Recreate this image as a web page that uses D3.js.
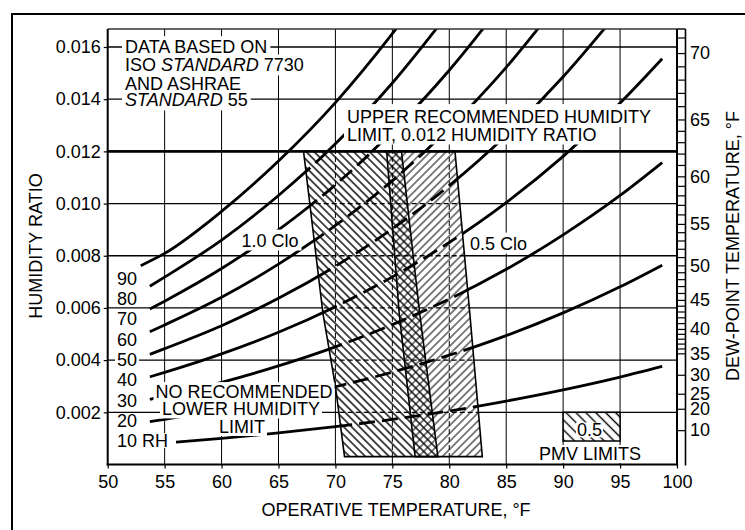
<!DOCTYPE html>
<html><head><meta charset="utf-8">
<script src="https://cdn.jsdelivr.net/npm/d3@7"></script>
<style>
body{margin:0;background:#fff;}
svg text{font-family:"Liberation Sans",Arial,sans-serif;font-size:18px;fill:#000;}
</style></head><body>
<svg id="c" width="745" height="530"></svg>
<script>
// ---------- data ----------
const tempTicks = [50,55,60,65,70,75,80,85,90,95,100];
const ratioTicks = [0.002,0.004,0.006,0.008,0.010,0.012,0.014,0.016];
const dewPointLabels = [10,20,25,30,35,40,45,50,55,60,65,70];
const dewPointMinor = [36,37,38,39,41,42,43,44,46,47,48,49,51,52,53,54,56,57,58,59,61,62,63,64,66,67,68,69,71];
const dewPointRef = [10,15,20,25,30,32,35,40,45,50,55,60,65,70,75];
const dewPointRatio = [0.001316,0.00169,0.002136,0.002712,0.003439,0.003773,0.004260,0.005195,0.006309,0.007632,0.009221,0.011044,0.013223,0.015768,0.018755];

// relative humidity curves: [operative temperature °F, humidity ratio]
const rh90 = [[52.9,0.00762],[55,0.00809],[60,0.00970],[65,0.01163],[70,0.01387],[75,0.01651],[76,0.01708]];
const rh80 = [[53.7,0.00683],[55,0.00718],[60,0.00860],[65,0.01031],[70,0.01229],[75,0.01462],[80,0.01734]];
const rh70 = [[53.7,0.00596],[55,0.00626],[60,0.00751],[65,0.00899],[70,0.01072],[75,0.01275],[80,0.01511],[85,0.01784]];
const rh60 = [[53.7,0.00509],[55,0.00535],[60,0.00641],[65,0.00768],[70,0.00916],[75,0.01088],[80,0.01289],[85,0.01522],[90,0.01793]];
const rh50 = [[53.7,0.00422],[55,0.00444],[60,0.00532],[65,0.00637],[70,0.00760],[75,0.00903],[80,0.01069],[85,0.01262],[90,0.01486],[95,0.01743]];
const rh40 = [[53.7,0.00336],[55,0.00353],[60,0.00424],[65,0.00507],[70,0.00605],[75,0.00719],[80,0.00851],[85,0.01004],[90,0.01181],[95,0.01385],[98.7,0.01555]];
const rh30 = [[53.7,0.00250],[55,0.00263],[60,0.00315],[65,0.00378],[70,0.00451],[75,0.00536],[80,0.00634],[85,0.00748],[90,0.00880],[95,0.01031],[98.7,0.01157]];
const rh20 = [[53.7,0.00164],[55,0.00173],[60,0.00208],[65,0.00249],[70,0.00298],[75,0.00354],[80,0.00419],[85,0.00494],[90,0.00581],[95,0.00681],[98.7,0.00764]];
const rh10 = [[56,0.00086],[60,0.00100],[65,0.00121],[70,0.00145],[75,0.00173],[80,0.00205],[85,0.00243],[90,0.00286],[95,0.00335],[98.7,0.00376]];
const rhCurves = [rh90,rh80,rh70,rh60,rh50,rh40,rh30,rh20,rh10];
const rhLabels = ["90","80","70","60","50","40","30","20","10 RH"];

// comfort zones
const zoneClo10 = [[67.2,0.012],[75.8,0.012],[77.4,0.0058],[79.0,0.0003],[70.8,0.0003],[70.0,0.0030],[68.9,0.0058]];
const zoneClo05 = [[74.5,0.012],[80.5,0.012],[81.8,0.0058],[82.9,0.0003],[77.0,0.0003],[75.6,0.0058]];
const pmvBox = [[90,0.0009],[95,0.002]];

// ---------- layout ----------
const svg = d3.select("#c");
const x = d3.scaleLinear().domain([50,100]).range([107.7,677]);
const y = d3.scaleLinear().domain([0,0.01669]).range([464.5,29]);
const dp = d3.scaleLinear().domain(dewPointRef).range(dewPointRatio.map(w=>y(w)));
const X0=x.range()[0], X1=x.range()[1], Y0=y.range()[0], Y1=y.range()[1];

const defs = svg.append("defs");
function hatch(id, angle, sw, size){
  const p = defs.append("pattern").attr("id",id).attr("patternUnits","userSpaceOnUse")
    .attr("width",size).attr("height",size).attr("patternTransform",`rotate(${angle})`);
  p.append("line").attr("x1",size/2).attr("x2",size/2).attr("y1",0).attr("y2",size)
    .attr("stroke","#000").attr("stroke-width",sw);
}
hatch("hWin",-45,1.4,5.6);
hatch("hSum",45,1.0,5.6);
hatch("hPmv",-45,1.4,7);
defs.append("clipPath").attr("id","plotClip").append("rect")
  .attr("x",X0).attr("y",Y1).attr("width",X1-X0).attr("height",Y0-Y1);
const zc = defs.append("clipPath").attr("id","zoneClip");
const poly = d3.line().x(d=>x(d[0])).y(d=>y(d[1])).curve(d3.curveLinearClosed);
zc.append("path").attr("d",poly(zoneClo10));
zc.append("path").attr("d",poly(zoneClo05));

// outer frame
svg.append("rect").attr("x",12).attr("y",14).attr("width",800).attr("height",600)
  .attr("fill","none").attr("stroke","#000").attr("stroke-width",2);

// gridlines
function drawGrid(g, dash){
  g.selectAll(".vg").data(tempTicks.slice(1,-1)).join("line")
    .attr("x1",d=>x(d)).attr("x2",d=>x(d)).attr("y1",Y1).attr("y2",Y0)
    .attr("stroke","#000").attr("stroke-width",1).attr("stroke-dasharray",dash);
  g.selectAll(".hg").data(ratioTicks).join("line")
    .attr("x1",X0).attr("x2",X1).attr("y1",d=>y(d)).attr("y2",d=>y(d))
    .attr("stroke","#000").attr("stroke-width",d=>d===0.012?2.2:1.3).attr("stroke-dasharray",d=>d===0.012?null:dash);
}
const grid = svg.append("g");
drawGrid(grid,null);

// RH curves
const line = d3.line().x(d=>x(d[0])).y(d=>y(d[1])).curve(d3.curveMonotoneX);
svg.append("g").attr("clip-path","url(#plotClip)").selectAll("path").data(rhCurves).join("path")
  .attr("d",line).attr("fill","none").attr("stroke","#000").attr("stroke-width",2.8);

// zones
const zg = svg.append("g");
[zoneClo10,zoneClo05].forEach(z=>zg.append("path").attr("d",poly(z)).attr("fill","#fff"));
zg.append("path").attr("d",poly(zoneClo10)).attr("fill","url(#hWin)");
zg.append("path").attr("d",poly(zoneClo05)).attr("fill","url(#hSum)");
const zin = svg.append("g").attr("clip-path","url(#zoneClip)");
drawGrid(zin.append("g"),"5,3");
zin.append("g").selectAll("path").data(rhCurves).join("path")
  .attr("d",line).attr("fill","none").attr("stroke","#000").attr("stroke-width",2.8).attr("stroke-dasharray","16,7");
[zoneClo10,zoneClo05].forEach(z=>zg.append("path").attr("d",poly(z)).attr("fill","none")
  .attr("stroke","#000").attr("stroke-width",1.6));
svg.append("line").attr("x1",X0).attr("x2",X1).attr("y1",y(0.012)).attr("y2",y(0.012))
  .attr("stroke","#000").attr("stroke-width",2.2);

// PMV legend box
svg.append("rect").attr("x",x(pmvBox[0][0])).attr("y",y(pmvBox[1][1]))
  .attr("width",x(pmvBox[1][0])-x(pmvBox[0][0])).attr("height",y(pmvBox[0][1])-y(pmvBox[1][1]))
  .attr("fill","#fff");
svg.append("rect").attr("x",x(pmvBox[0][0])).attr("y",y(pmvBox[1][1]))
  .attr("width",x(pmvBox[1][0])-x(pmvBox[0][0])).attr("height",y(pmvBox[0][1])-y(pmvBox[1][1]))
  .attr("fill","url(#hPmv)").attr("stroke","#000").attr("stroke-width",1.5);

// axes
const xAxis = svg.append("g").attr("transform",`translate(0,${Y0})`)
  .call(d3.axisBottom(x).tickValues(tempTicks).tickSize(4).tickPadding(6.5));
const yAxis = svg.append("g").attr("transform",`translate(${X0},0)`)
  .call(d3.axisLeft(y).tickValues(ratioTicks).tickFormat(d3.format(".3f")).tickSize(4).tickPadding(3));
const dAxisMinor = svg.append("g").attr("transform",`translate(${X1},0)`)
  .call(d3.axisRight(dp).tickValues(dewPointMinor).tickSize(8.5).tickFormat(""));
const dAxis = svg.append("g").attr("transform",`translate(${X1},0)`)
  .call(d3.axisRight(dp).tickValues(dewPointLabels).tickSize(8.5).tickPadding(4.5));
[xAxis,yAxis,dAxisMinor,dAxis].forEach(a=>{
  a.select(".domain").remove();
  a.selectAll("line").attr("stroke","#000").attr("stroke-width",1.2);
  a.selectAll("text").attr("font-size",18).attr("font-family",null).attr("fill","#000");
});
// plot frame
svg.append("line").attr("x1",X0).attr("x2",X1).attr("y1",Y1).attr("y2",Y1).attr("stroke","#333").attr("stroke-width",1.4);
svg.append("line").attr("x1",X0).attr("x2",X0).attr("y1",Y1).attr("y2",Y0+1).attr("stroke","#000").attr("stroke-width",2);
svg.append("line").attr("x1",X0-1).attr("x2",X1+1).attr("y1",Y0).attr("y2",Y0).attr("stroke","#000").attr("stroke-width",2);
svg.append("line").attr("x1",X1).attr("x2",X1).attr("y1",Y1).attr("y2",Y0+1).attr("stroke","#000").attr("stroke-width",2);
svg.append("line").attr("x1",X1+8.5).attr("x2",X1+8.5).attr("y1",Y1).attr("y2",Y0+1).attr("stroke","#000").attr("stroke-width",1.6);
svg.append("line").attr("x1",X1).attr("x2",X1+8.5).attr("y1",Y1).attr("y2",Y1).attr("stroke","#000").attr("stroke-width",1.4);

// boxed texts
const boxLayer = svg.append("g"), textLayer = svg.append("g");
function boxed(xp, yp, parts, anchor, padT=4, padB=4, padX=3){
  const t = textLayer.append("text").attr("x",xp).attr("y",yp).attr("text-anchor",anchor||"start");
  parts.forEach(p=>t.append("tspan").text(p[0]).attr("font-style",p[1]?"italic":null));
  const b = t.node().getBBox();
  const cap = 12.9;
  boxLayer.append("rect").attr("x",b.x-padX).attr("width",b.width+2*padX)
    .attr("y",yp-cap-padT).attr("height",cap+padT+padB).attr("fill","#fff");
  return t;
}
boxed(125,53.1,[["DATA BASED ON"]]);
boxed(125,71.4,[["ISO "],["STANDARD",1],[" 7730"]]);
boxed(125,89.7,[["AND ASHRAE"]]);
boxed(125,106.4,[["STANDARD",1],[" 55"]]);
boxed(347,123,[["UPPER RECOMMENDED HUMIDITY"]],"start",6,4);
boxed(347,140.5,[["LIMIT, 0.012 HUMIDITY RATIO"]],"start",4,4);
boxed(270,246.5,[["1.0 Clo"]],"middle");
boxed(470,249.5,[["0.5 Clo"]],"start");
boxed(244,398,[["NO RECOMMENDED"]],"middle",3,3,2);
boxed(241,415.4,[["LOWER HUMIDITY"]],"middle",3,3,2);
boxed(242,433,[["LIMIT"]],"middle",3,3,2);
const rhLabelY = [278.3,298.3,318.3,339.3,360,380,400.7,420.7,440.7];
rhLabels.forEach((l,i)=>boxed(117,rhLabelY[i]+6.4,[[l]],"start",1,1,2));
boxed(589.5,436.4,[["0.5"]],"middle",1,1,1);
boxed(590,460,[["PMV LIMITS"]],"middle",2,3,2);

// axis titles
svg.append("text").attr("x",396).attr("y",516.4).attr("text-anchor","middle").text("OPERATIVE TEMPERATURE, °F");
svg.append("text").attr("transform","translate(41.5,246) rotate(-90)").attr("text-anchor","middle").text("HUMIDITY RATIO");
svg.append("text").attr("transform","translate(738.5,246) rotate(-90)").attr("text-anchor","middle").text("DEW-POINT TEMPERATURE, °F");
</script>
</body></html>
